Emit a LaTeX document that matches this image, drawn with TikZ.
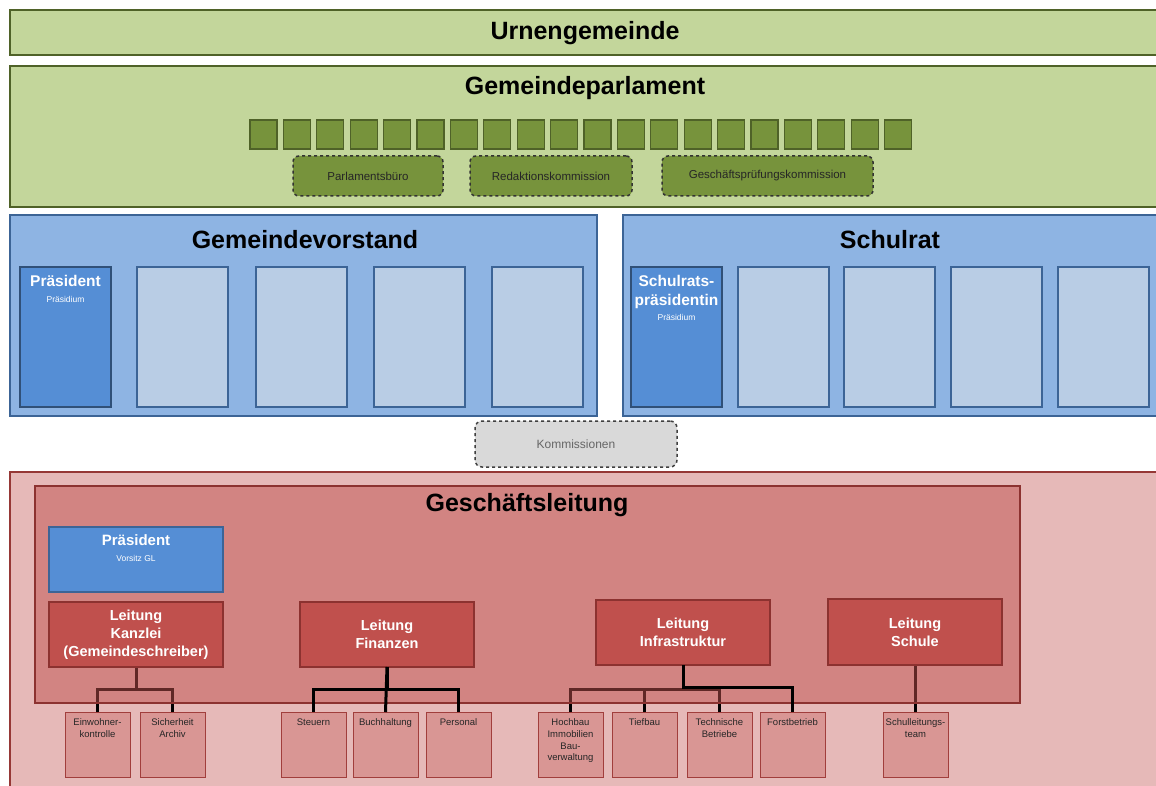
\documentclass[tikz,border=0pt]{standalone}
\usepackage{fontspec}
\setmainfont{Liberation Sans}
\usetikzlibrary{positioning,calc}
\pgfdeclarelayer{bg}
\pgfdeclarelayer{behind}
\pgfsetlayers{bg,behind,main}
\definecolor{grL}{RGB}{195,214,155}
\definecolor{grD}{RGB}{79,98,40}
\definecolor{grM}{RGB}{119,147,60}
\definecolor{blO}{RGB}{142,180,227}
\definecolor{blL}{RGB}{185,205,229}
\definecolor{blM}{RGB}{85,142,213}
\definecolor{blD}{RGB}{60,100,150}
\definecolor{rdO}{RGB}{230,185,184}
\definecolor{rdM}{RGB}{192,80,77}
\definecolor{rdD}{RGB}{140,50,48}
\definecolor{rdLeaf}{RGB}{217,150,148}
\definecolor{gyK}{RGB}{217,217,217}
\tikzset{
  box/.style={anchor=north west, inner sep=0pt, outer sep=0pt, line width=1.5pt},
  grbox/.style={box, draw=grD, fill=grL},
  sq/.style={box, draw=grD, fill=grM, minimum width=27pt, minimum height=29pt, line width=1.2pt},
  dbox/.style={box, draw=black!80, fill=grM, dashed, rounded corners=6pt, minimum height=40pt,
     font=\fontsize{11.5}{13}\selectfont, text=black!85},
  blbox/.style={box, draw=blD, fill=blO},
  blin/.style={box, draw=blD, fill=blL, minimum width=91pt, minimum height=140pt},
  blpres/.style={box, draw=blD!80!black, fill=blM, minimum width=91pt, minimum height=140pt},
  title/.style={font=\fontsize{25}{30}\selectfont\bfseries, text=black, inner sep=0pt},
  wtxt/.style={text=white, align=center, inner sep=0pt, anchor=north},
  leit/.style={box, draw=rdD, fill=rdM, minimum width=174pt, minimum height=65pt, text=white,
     align=center, font=\fontsize{14.5}{18}\selectfont\bfseries},
  leaf/.style={box, draw=rdD!60!rdM, fill=rdLeaf, line width=1pt, minimum width=65pt, minimum height=65pt,
     label={[anchor=north, yshift=-6.5pt, align=center, inner sep=0pt, font=\fontsize{9.5}{11.8}\selectfont, text=black!85]north:#1}},
  conn/.style={line width=3pt, draw=black},
}
\begin{document}
\begin{tikzpicture}[x=1pt,y=-1pt]
\useasboundingbox (0,0) rectangle (1156,786);
\begin{pgfonlayer}{bg}
\fill[white] (0,0) rectangle (1156,786);
\node[box, draw=rdD!80!rdM, fill=rdO, minimum width=1170pt, minimum height=320pt] (red) at (10,472) {};
\end{pgfonlayer}

% green
\node[grbox, minimum width=1170pt, minimum height=45pt] (urn) at (10,10) {};
\node[title] (urnT) at (585,33) {Urnengemeinde};
\node[grbox, minimum width=1170pt, minimum height=141pt] (parl) at (10,66) {};
\node[title] (parlT) at (585,88) {Gemeindeparlament};
\foreach \i in {0,...,19} \node[sq] (sq\i) at ({250+33.4*\i},120) {};
\node[dbox, minimum width=150pt] (pb) at (293,156) {Parlamentsbüro};
\node[dbox, minimum width=162pt] (rk) at (470,156) {Redaktionskommission};
\node[dbox, minimum width=211pt] (gpk) at (662,156) {Geschäftsprüfungskommission};

% blue
\node[blbox, minimum width=587pt, minimum height=201pt] (gv) at (10,215) {};
\node[title] (gvT) at (305,240) {Gemeindevorstand};
\node[blpres] (gvp) at (20,267) {};
\node[wtxt, font=\fontsize{15.5}{17}\selectfont\bfseries] (gvpT) at ([yshift=-8pt]gvp.north) {Präsident\\[-1pt]{\fontsize{8.5}{10}\selectfont\mdseries Präsidium}};
\foreach \x [count=\k] in {137,256,374,492} \node[blin] (gv\k) at (\x,267) {};

\node[blbox, minimum width=560pt, minimum height=201pt] (sr) at (623,215) {};
\node[title] (srT) at (890,240) {Schulrat};
\node[blpres] (srp) at (631,267) {};
\node[wtxt, font=\fontsize{15.5}{19}\selectfont\bfseries] (srpT) at ([yshift=-8pt]srp.north) {Schulrats-\\präsidentin\\[-4pt]{\fontsize{8.5}{10}\selectfont\mdseries Präsidium}};
\foreach \x [count=\k] in {738,844,951,1058} \node[blin] (sr\k) at (\x,267) {};

% Kommissionen
\node[box, draw=black!75, fill=gyK, dashed, rounded corners=7pt, minimum width=202pt, minimum height=46pt,
  font=\fontsize{12}{14}\selectfont, text=black!60] (komm) at (475,421) {Kommissionen};

% leaves
\node[leaf={Einwohner-\\kontrolle}] (einw) at (65,712) {};
\node[leaf={Sicherheit\\Archiv}] (sich) at (140,712) {};
\node[leaf={Steuern}] (steu) at (281,712) {};
\node[leaf={Buchhaltung}] (buch) at (353,712) {};
\node[leaf={Personal}] (pers) at (426,712) {};
\node[leaf={Hochbau\\Immobilien\\Bau-\\verwaltung}] (hoch) at (538,712) {};
\node[leaf={Tiefbau}] (tief) at (612,712) {};
\node[leaf={Technische\\Betriebe}] (tech) at (687,712) {};
\node[leaf={Forstbetrieb}] (forst) at (760,712) {};
\node[leaf={Schulleitungs-\\team}] (slt) at (883,712) {};

% Geschäftsleitung (translucent)
\node[box, draw=rdD, fill=rdM, fill opacity=0.5, minimum width=985pt, minimum height=217pt] (gl) at (35,486) {};
\node[title] (glT) at (527,505) {Geschäftsleitung};
\node[box, draw=blD, fill=blM, minimum width=174pt, minimum height=65pt] (glp) at (49,527) {};
\node[wtxt, font=\fontsize{15}{17}\selectfont\bfseries] (glpT) at ([yshift=-7pt]glp.north) {Präsident\\[-1pt]{\fontsize{8.5}{10}\selectfont\mdseries Vorsitz GL}};
\node[leit] (kanz) at (49,602) {Leitung\\Kanzlei\\(Gemeindeschreiber)};
\node[leit] (fin) at (300,602) {Leitung\\Finanzen};
\node[leit] (infra) at (596,600) {Leitung\\Infrastruktur};
\node[leit, minimum height=66pt] (schule) at (828,599) {Leitung\\Schule};

% connectors behind the Geschäftsleitung box
\begin{pgfonlayer}{behind}
\draw[conn] (kanz.south) -- ++(0,22) -| (einw.north);
\draw[conn] (kanz.south) -- ++(0,22) -| (sich.north);
\draw[conn] (infra.south) -- ++(0,24) -| (hoch.north);
\draw[conn] (infra.south) -- ++(0,24) -| (tief.north);
\draw[conn] (infra.south) -- ++(0,24) -| (tech.north);
\draw[conn] (schule.south) -- (schule.south |- slt.north);
\end{pgfonlayer}
% connectors in front
\draw[conn] (fin.south) -- ++(0,22) -| (steu.north);
\draw[conn] (fin.south) -- (buch.north);
\draw[conn] (fin.south) -- ++(0,22) -| (pers.north);
\draw[conn] (infra.south) -- ++(0,22) -| (forst.north);
\end{tikzpicture}
\end{document}
